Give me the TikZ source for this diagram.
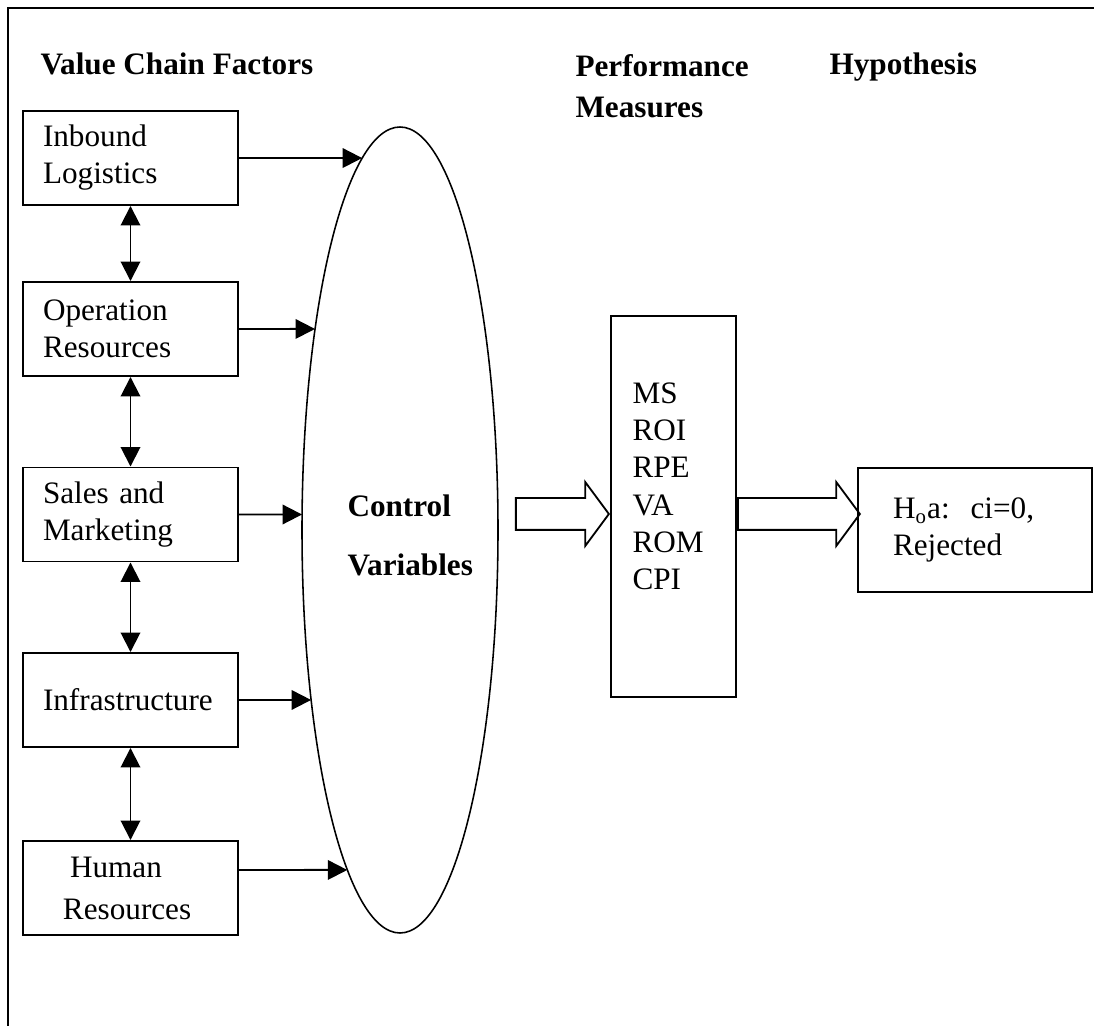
\documentclass[tikz,border=0pt]{standalone}
\usepackage{fontspec}
\setmainfont{Liberation Serif}
\usetikzlibrary{arrows.meta, shapes.geometric, shapes.arrows, intersections, calc}

\newcommand{\pxu}{0.3846pt}

\begin{document}
\begin{tikzpicture}[x=\pxu, y=-\pxu, >={Triangle[length=7.5pt, width=7.5pt]},
  factor/.style={draw, rectangle, line width=0.75pt, minimum width=215*\pxu,
    minimum height=94*\pxu, inner xsep=20*\pxu, text width=175*\pxu,
    align=left, font=\fontsize{12}{14.2}\selectfont},
  heading/.style={inner sep=0pt, align=left, font=\fontsize{12}{15.8}\selectfont\bfseries},
  arrow/.style={->, line width=0.75pt},
  twoway/.style={<->, line width=0.75pt},
  fat/.style={draw, single arrow, line width=0.7pt, inner xsep=0pt,
    inner ysep=15*\pxu, single arrow head extend=16*\pxu,
    single arrow tip angle=107}
]
  \useasboundingbox (0,0) rectangle (1094,1026);

  % outer frame
  \draw[line width=0.6pt] (8,1026) -- (8,8) -- (1094,8);

  % headings
  \node[heading, anchor=base west] (vcf) at (40,75) {Value Chain Factors};
  \node[heading, anchor=north west] (pmh) at (575,54) {Performance\\Measures};
  \node[heading, anchor=base west] (hyh) at (829,75) {Hypothesis};

  % value chain factors
  \node[factor] (ib) at (130.5,158) {Inbound\\Logistics};
  \node[factor] (op) at (130.5,329) {Operation\\Resources};
  \node[factor] (sm) at (130.5,514.5) {Sales and\\Marketing};
  \node[factor] (inf) at (130.5,700) {Infrastructure};
  \node[factor, inner xsep=40*\pxu, text width=135*\pxu] (hr) at (130.5,888)
    {\hspace*{2.7pt}Human\\[2pt]Resources};

  % links between factors
  \draw[twoway] (ib) -- (op);
  \draw[twoway] (op) -- (sm);
  \draw[twoway] (sm) -- (inf);
  \draw[twoway] (inf) -- (hr);

  % control variables
  \node[draw, ellipse, line width=0.6pt, minimum width=196*\pxu,
    minimum height=806*\pxu, inner sep=0pt, name path=cvrim] (cv) at (400,530) {};
  \node[heading, anchor=north west] (cvtext) at (347,494) {Control\\[7pt]Variables};

  % factors into the ellipse
  \path[name path=r1] (ib.east) -- +(150,0);
  \path[name path=r2] (op.east) -- +(150,0);
  \path[name path=r3] (sm.east) -- +(150,0);
  \path[name path=r4] (inf.east) -- +(150,0);
  \coordinate (hrout) at ($(hr.east)+(0,-18)$);
  \path[name path=r5] (hrout) -- +(150,0);
  \draw[arrow, name intersections={of=r1 and cvrim, by=e1}] (ib.east) -- (e1);
  \draw[arrow, name intersections={of=r2 and cvrim, by=e2}] (op.east) -- (e2);
  \draw[arrow, name intersections={of=r3 and cvrim, by=e3}] (sm.east) -- (e3);
  \draw[arrow, name intersections={of=r4 and cvrim, by=e4}] (inf.east) -- (e4);
  \draw[arrow, name intersections={of=r5 and cvrim, by=e5}] (hrout) -- (e5);

  % performance measures
  \node[draw, line width=0.75pt, minimum width=125*\pxu, minimum height=381*\pxu,
    inner sep=0pt] (pm) at (673.5,506.5) {};
  \node[inner sep=0pt, anchor=north west, align=left,
    font=\fontsize{12}{14.35}\selectfont] (pmlist) at (632,382)
    {MS\\ROI\\RPE\\VA\\ROM\\CPI};

  % hypothesis
  \node[draw, line width=0.75pt, minimum width=234*\pxu, minimum height=124*\pxu,
    inner xsep=35*\pxu, text width=164*\pxu, align=left,
    font=\fontsize{12}{14.2}\selectfont] (hyp) at (975,530)
    {H\textsubscript{o}a:\ \ ci=0,\\Rejected};

  % block arrows
  \coordinate (arr) at (0,514);
  \node[fat, minimum height=93*\pxu, anchor=tip] (fa1) at (pm.west |- arr) {};
  \node[fat, minimum height=122*\pxu, anchor=tail] (fa2) at (pm.east |- arr) {};

\end{tikzpicture}
\end{document}
